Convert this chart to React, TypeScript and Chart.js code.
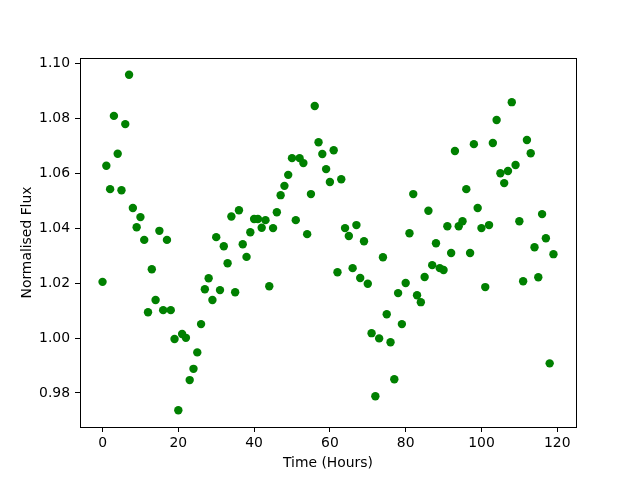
import React, { useEffect, useRef } from "react";
import { Chart, registerables } from "chart.js";

Chart.register(...registerables);

const hours: number[] = [
  0, 1, 2, 3, 4, 5, 6, 7, 8, 9, 10, 11, 12, 13, 14, 15, 16, 17, 18, 19,
  20, 21, 22, 23, 24, 25, 26, 27, 28, 29, 30, 31, 32, 33, 34, 35, 36, 37, 38, 39,
  40, 41, 42, 43, 44, 45, 46, 47, 48, 49, 50, 51, 52, 53, 54, 55, 56, 57, 58, 59,
  60, 61, 62, 63, 64, 65, 66, 67, 68, 69, 70, 71, 72, 73, 74, 75, 76, 77, 78, 79,
  80, 81, 82, 83, 84, 85, 86, 87, 88, 89, 90, 91, 92, 93, 94, 95, 96, 97, 98, 99,
  100, 101, 102, 103, 104, 105, 106, 107, 108, 109, 110, 111, 112, 113, 114, 115, 116, 117, 118, 119,
];

const flux: number[] = [
  1.0205, 1.0628, 1.0543, 1.081, 1.0672, 1.0539, 1.078, 1.096, 1.0474, 1.0404,
  1.0441, 1.0358, 1.0094, 1.0251, 1.0139, 1.0391, 1.0102, 1.0358, 1.0102, 0.9997,
  0.9737, 1.0015, 1.0001, 0.9847, 0.9888, 0.9948, 1.0051, 1.0178, 1.0218, 1.0139,
  1.0368, 1.0175, 1.0335, 1.0273, 1.0443, 1.0167, 1.0466, 1.0342, 1.0296, 1.0386,
  1.0434, 1.0434, 1.0402, 1.043, 1.0189, 1.0401, 1.0459, 1.0521, 1.0555, 1.0595,
  1.0656, 1.043, 1.0656, 1.0638, 1.0379, 1.0525, 1.0846, 1.0714, 1.0671, 1.0616,
  1.0569, 1.0685, 1.024, 1.0579, 1.0401, 1.0372, 1.0255, 1.0412, 1.0219, 1.0353,
  1.0198, 1.0018, 0.9788, 0.9999, 1.0295, 1.0087, 0.9985, 0.985, 1.0164, 1.0051,
  1.0201, 1.0382, 1.0525, 1.0156, 1.0131, 1.0223, 1.0464, 1.0266, 1.0346, 1.0255,
  1.0248, 1.0408, 1.031, 1.0682, 1.0408, 1.0426, 1.0543, 1.031, 1.0707, 1.0474,
  1.0401, 1.0186, 1.0412, 1.0711, 1.0795, 1.0601, 1.0565, 1.0609, 1.086, 1.0631,
  1.0426, 1.0207, 1.0722, 1.0674, 1.0331, 1.0222, 1.0452, 1.0364, 0.9908, 1.0306,
];

const xTicks: number[] = [0, 20, 40, 60, 80, 100, 120];
const yTicks: number[] = [0.98, 1.0, 1.02, 1.04, 1.06, 1.08, 1.1];

const xTitle = "Time (Hours)";
const yTitle = "Normalised Flux";

const frame = {
  id: "frame",
  afterDraw(chart: any) {
    const { ctx, chartArea } = chart;
    ctx.save();
    ctx.strokeStyle = "#000";
    ctx.lineWidth = 1;
    ctx.strokeRect(
      Math.round(chartArea.left) + 0.5,
      Math.round(chartArea.top) + 0.5,
      Math.round(chartArea.right - chartArea.left),
      Math.round(chartArea.bottom - chartArea.top)
    );
    ctx.restore();
  },
};

export default function App() {
  const ref = useRef<HTMLCanvasElement>(null);
  useEffect(() => {
    if (!ref.current) return;
    Chart.defaults.font.family = "'DejaVu Sans'";
    const font = { family: "'DejaVu Sans'", size: 13.9 };
    const chart = new Chart(ref.current, {
      type: "scatter",
      data: {
        datasets: [
          {
            data: hours.map((h, i) => ({ x: h, y: flux[i] })),
            backgroundColor: "#008000",
            borderColor: "#008000",
            borderWidth: 0,
            pointRadius: 4.2,
            pointHoverRadius: 4.2,
          },
        ],
      },
      options: {
        responsive: false,
        animation: false,
        events: [],
        layout: { padding: { left: 0, right: 64, top: 58, bottom: 0 } },
        plugins: { legend: { display: false }, tooltip: { enabled: false } },
        scales: {
          x: {
            type: "linear",
            min: -5.95,
            max: 124.95,
            afterBuildTicks: (s: any) => {
              s.ticks = xTicks.map((v) => ({ value: v }));
            },
            afterFit: (s: any) => {
              s.height = 53;
            },
            grid: {
              drawOnChartArea: false,
              drawTicks: true,
              tickLength: 5,
              tickColor: "#000",
              tickWidth: 1,
            },
            border: { display: false },
            ticks: {
              color: "#000",
              font,
              padding: 3,
              maxRotation: 0,
              autoSkip: false,
              callback: (v: any) => String(v),
            },
            title: {
              display: true,
              text: xTitle,
              color: "#000",
              font,
              padding: { top: 0, bottom: 8.5 },
            },
          },
          y: {
            type: "linear",
            min: 0.9676,
            max: 1.1021,
            afterBuildTicks: (s: any) => {
              s.ticks = yTicks.map((v) => ({ value: v }));
            },
            afterFit: (s: any) => {
              s.width = 80;
            },
            grid: {
              drawOnChartArea: false,
              drawTicks: true,
              tickLength: 5,
              tickColor: "#000",
              tickWidth: 1,
            },
            border: { display: false },
            ticks: {
              color: "#000",
              font,
              padding: 5,
              autoSkip: false,
              callback: (v: any) => Number(v).toFixed(2),
            },
            title: {
              display: true,
              text: yTitle,
              color: "#000",
              font,
              padding: { top: 19, bottom: 0 },
            },
          },
        },
      },
      plugins: [frame],
    });
    return () => chart.destroy();
  }, []);
  return (
    <div style={{ position: "absolute", left: 0, top: 0, width: 640, height: 480, background: "#fff" }}>
      <canvas ref={ref} width={640} height={480} style={{ width: 640, height: 480 }} />
    </div>
  );
}
